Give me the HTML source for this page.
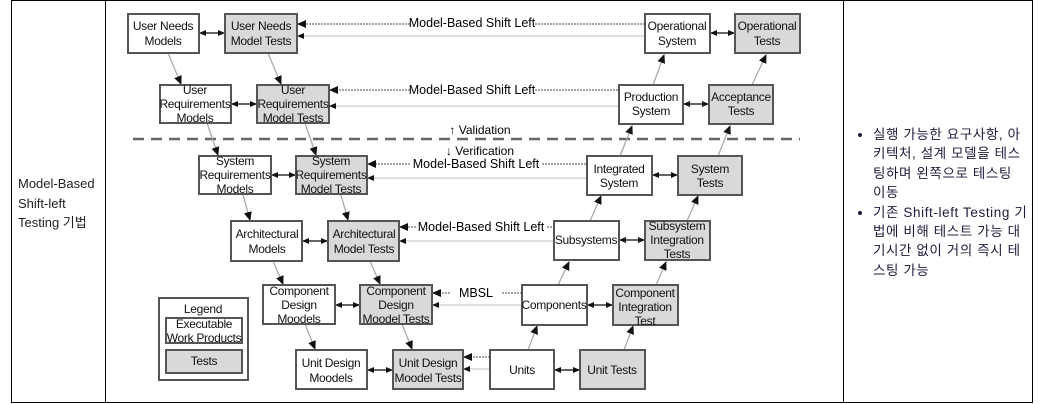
<!DOCTYPE html>
<html><head><meta charset="utf-8"><style>
body{margin:0;background:#fff;width:1044px;height:404px;overflow:hidden;position:relative;font-family:"Liberation Sans","Noto Sans CJK KR",sans-serif}
.b{position:absolute;background:#000}
.lt{position:absolute;left:18px;top:174px;font-size:13px;line-height:19.5px;color:#222}
.rt{position:absolute;left:856px;top:125px;width:185px;font-size:13.5px;line-height:19.4px;color:#1c1c3c;white-space:nowrap;letter-spacing:0.6px}
.rt ul{margin:0;padding:0 0 0 17px}
svg{position:absolute;left:0;top:0}
</style></head><body>
<div class="b" style="left:11px;top:0;width:1022px;height:1px"></div>
<div class="b" style="left:11px;top:402px;width:1022px;height:1px"></div>
<div class="b" style="left:11px;top:0;width:1px;height:403px"></div>
<div class="b" style="left:105px;top:0;width:1px;height:403px"></div>
<div class="b" style="left:843px;top:0;width:1px;height:403px"></div>
<div class="b" style="left:1032px;top:0;width:1px;height:403px"></div>
<div class="lt">Model-Based<br>Shift-left<br>Testing 기법</div>
<div class="rt"><ul><li>실행 가능한 요구사항, 아<br>키텍처, 설계 모델을 테스<br>팅하며 왼쪽으로 테스팅<br>이동</li><li>기존 Shift-left Testing 기<br>법에 비해 테스트 가능 대<br>기시간 없이 거의 즉시 테<br>스팅 가능</li></ul></div>
<svg width="1044" height="404" font-family="Liberation Sans, sans-serif" font-size="12" text-anchor="middle">
<defs>
<marker id="a" markerWidth="9" markerHeight="9" refX="8" refY="4.5" orient="auto" markerUnits="userSpaceOnUse"><path d="M0,0.5 L9,4.5 L0,8.5z" fill="#111"/></marker>
<marker id="s" markerWidth="7" markerHeight="7" refX="6" refY="3.5" orient="auto" markerUnits="userSpaceOnUse"><path d="M0,0.5 L7,3.5 L0,6.5z" fill="#111"/></marker>
</defs>
<line x1="133" y1="139" x2="800" y2="139" stroke="#666" stroke-width="2.5" stroke-dasharray="11,7"/>
<text x="480" y="134">↑ Validation</text>
<text x="480" y="155">↓ Verification</text>
<g stroke="#aaa" stroke-width="1.3" fill="none">
<line x1="168" y1="53" x2="181" y2="84" marker-end="url(#a)"/>
<line x1="268" y1="53" x2="281" y2="84" marker-end="url(#a)"/>
<line x1="207" y1="123" x2="218" y2="155" marker-end="url(#a)"/>
<line x1="305" y1="123" x2="316" y2="155" marker-end="url(#a)"/>
<line x1="243" y1="195" x2="250" y2="220" marker-end="url(#a)"/>
<line x1="341" y1="195" x2="348" y2="220" marker-end="url(#a)"/>
<line x1="273" y1="261" x2="283" y2="284" marker-end="url(#a)"/>
<line x1="370" y1="261" x2="380" y2="284" marker-end="url(#a)"/>
<line x1="305" y1="324" x2="315" y2="349" marker-end="url(#a)"/>
<line x1="402" y1="324" x2="412" y2="349" marker-end="url(#a)"/>
<line x1="653" y1="85" x2="664" y2="55" marker-end="url(#a)"/>
<line x1="752" y1="85" x2="766" y2="55" marker-end="url(#a)"/>
<line x1="620" y1="156" x2="632" y2="126" marker-end="url(#a)"/>
<line x1="718" y1="156" x2="730" y2="126" marker-end="url(#a)"/>
<line x1="590" y1="221" x2="601" y2="196" marker-end="url(#a)"/>
<line x1="687" y1="221" x2="698" y2="196" marker-end="url(#a)"/>
<line x1="558" y1="285" x2="569" y2="262" marker-end="url(#a)"/>
<line x1="656" y1="285" x2="666" y2="262" marker-end="url(#a)"/>
<line x1="528" y1="350" x2="537" y2="326" marker-end="url(#a)"/>
<line x1="624" y1="350" x2="633" y2="326" marker-end="url(#a)"/>
</g>
<g stroke="#888" stroke-width="1.5" stroke-dasharray="2,1" fill="none">
<line x1="410" y1="24" x2="298" y2="24" marker-end="url(#a)"/><line x1="535" y1="24" x2="645" y2="24"/>
<line x1="410" y1="90" x2="330" y2="90" marker-end="url(#a)"/><line x1="535" y1="90" x2="619" y2="90"/>
<line x1="410" y1="164" x2="368" y2="164" marker-end="url(#a)"/><line x1="542" y1="164" x2="587" y2="164"/>
<line x1="416" y1="227" x2="400" y2="227" marker-end="url(#a)"/><line x1="547" y1="227" x2="554" y2="227"/>
<line x1="450" y1="293" x2="433" y2="293" marker-end="url(#a)"/><line x1="502" y1="293" x2="522" y2="293"/>
<line x1="490" y1="357" x2="464" y2="357" marker-end="url(#a)"/>
</g>
<g stroke="#ccc" stroke-width="1.3" fill="none">
<line x1="645" y1="36" x2="298" y2="36" marker-end="url(#s)"/>
<line x1="619" y1="106" x2="330" y2="106" marker-end="url(#s)"/>
<line x1="587" y1="178" x2="368" y2="178" marker-end="url(#s)"/>
<line x1="554" y1="241" x2="400" y2="241" marker-end="url(#s)"/>
<line x1="522" y1="305" x2="433" y2="305" marker-end="url(#s)"/>
<line x1="490" y1="369" x2="464" y2="369" marker-end="url(#s)"/>
</g>
<g font-size="12.5">
<text x="472" y="27">Model-Based Shift Left</text>
<text x="472" y="94">Model-Based Shift Left</text>
<text x="476" y="168">Model-Based Shift Left</text>
<text x="481" y="231">Model-Based Shift Left</text>
<text x="476" y="297">MBSL</text>
</g>
<g stroke="#111" stroke-width="1.3">
<line x1="212" y1="33" x2="200" y2="33" marker-end="url(#s)"/><line x1="212" y1="33" x2="224" y2="33" marker-end="url(#s)"/>
<line x1="723" y1="33" x2="711" y2="33" marker-end="url(#s)"/><line x1="723" y1="33" x2="734" y2="33" marker-end="url(#s)"/>
<line x1="244" y1="104" x2="232" y2="104" marker-end="url(#s)"/><line x1="244" y1="104" x2="256" y2="104" marker-end="url(#s)"/>
<line x1="696" y1="104" x2="684" y2="104" marker-end="url(#s)"/><line x1="696" y1="104" x2="708" y2="104" marker-end="url(#s)"/>
<line x1="283" y1="175" x2="272" y2="175" marker-end="url(#s)"/><line x1="283" y1="175" x2="295" y2="175" marker-end="url(#s)"/>
<line x1="665" y1="175" x2="653" y2="175" marker-end="url(#s)"/><line x1="665" y1="175" x2="677" y2="175" marker-end="url(#s)"/>
<line x1="315" y1="241" x2="303" y2="241" marker-end="url(#s)"/><line x1="315" y1="241" x2="327" y2="241" marker-end="url(#s)"/>
<line x1="632" y1="240" x2="620" y2="240" marker-end="url(#s)"/><line x1="632" y1="240" x2="644" y2="240" marker-end="url(#s)"/>
<line x1="347" y1="305" x2="336" y2="305" marker-end="url(#s)"/><line x1="347" y1="305" x2="359" y2="305" marker-end="url(#s)"/>
<line x1="600" y1="305" x2="588" y2="305" marker-end="url(#s)"/><line x1="600" y1="305" x2="612" y2="305" marker-end="url(#s)"/>
<line x1="380" y1="370" x2="368" y2="370" marker-end="url(#s)"/><line x1="380" y1="370" x2="392" y2="370" marker-end="url(#s)"/>
<line x1="567" y1="370" x2="555" y2="370" marker-end="url(#s)"/><line x1="567" y1="370" x2="579" y2="370" marker-end="url(#s)"/>
</g>
<g stroke="#555" stroke-width="2">
<rect x="128" y="14" width="71" height="39" fill="#fff"/>
<rect x="225" y="14" width="72" height="39" fill="#d9d9d9"/>
<rect x="645" y="14" width="65" height="39" fill="#fff"/>
<rect x="735" y="14" width="65" height="39" fill="#d9d9d9"/>
<rect x="160" y="85" width="71" height="38" fill="#fff"/>
<rect x="257" y="85" width="72" height="38" fill="#d9d9d9"/>
<rect x="619" y="85" width="64" height="39" fill="#fff"/>
<rect x="709" y="85" width="64" height="39" fill="#d9d9d9"/>
<rect x="199" y="156" width="72" height="38" fill="#fff"/>
<rect x="296" y="156" width="71" height="38" fill="#d9d9d9"/>
<rect x="587" y="156" width="65" height="39" fill="#fff"/>
<rect x="678" y="156" width="64" height="39" fill="#d9d9d9"/>
<rect x="231" y="221" width="71" height="40" fill="#fff"/>
<rect x="328" y="221" width="71" height="40" fill="#d9d9d9"/>
<rect x="554" y="221" width="65" height="39" fill="#fff"/>
<rect x="645" y="221" width="65" height="39" fill="#d9d9d9"/>
<rect x="263" y="285" width="72" height="39" fill="#fff"/>
<rect x="360" y="285" width="72" height="39" fill="#d9d9d9"/>
<rect x="522" y="285" width="65" height="40" fill="#fff"/>
<rect x="613" y="285" width="65" height="40" fill="#d9d9d9"/>
<rect x="296" y="350" width="71" height="39" fill="#fff"/>
<rect x="393" y="350" width="70" height="39" fill="#d9d9d9"/>
<rect x="490" y="350" width="64" height="39" fill="#fff"/>
<rect x="580" y="350" width="65" height="39" fill="#d9d9d9"/>
<rect x="159" y="298" width="89" height="82" fill="#fff"/>
<rect x="166" y="318" width="76" height="25" fill="#fff"/>
<rect x="166" y="350" width="76" height="23" fill="#d9d9d9"/>
</g>
<g fill="#111" letter-spacing="-0.3">
<text x="163" y="30">User Needs</text><text x="163" y="45">Models</text>
<text x="261" y="30">User Needs</text><text x="261" y="45">Model Tests</text>
<text x="677" y="30">Operational</text><text x="677" y="45">System</text>
<text x="767" y="30">Operational</text><text x="767" y="45">Tests</text>
<text x="195" y="94">User</text><text x="195" y="108">Requirements</text><text x="195" y="122">Models</text>
<text x="293" y="94">User</text><text x="293" y="108">Requirements</text><text x="293" y="122">Model Tests</text>
<text x="651" y="101">Production</text><text x="651" y="115">System</text>
<text x="741" y="101">Acceptance</text><text x="741" y="115">Tests</text>
<text x="235" y="165">System</text><text x="235" y="179">Requirements</text><text x="235" y="193">Models</text>
<text x="331" y="165">System</text><text x="331" y="179">Requirements</text><text x="331" y="193">Model Tests</text>
<text x="619" y="173">Integrated</text><text x="619" y="187">System</text>
<text x="710" y="173">System</text><text x="710" y="187">Tests</text>
<text x="267" y="238">Architectural</text><text x="267" y="253">Models</text>
<text x="364" y="238">Architectural</text><text x="364" y="253">Model Tests</text>
<text x="586" y="244">Subsystems</text>
<text x="677" y="230">Subsystem</text><text x="677" y="244">Integration</text><text x="677" y="258">Tests</text>
<text x="299" y="295">Component</text><text x="299" y="309">Design</text><text x="299" y="323">Moodels</text>
<text x="396" y="295">Component</text><text x="396" y="309">Design</text><text x="396" y="323">Moodel Tests</text>
<text x="554" y="309">Components</text>
<text x="645" y="297">Component</text><text x="645" y="311">Integration</text><text x="645" y="325">Test</text>
<text x="331" y="367">Unit Design</text><text x="331" y="382">Moodels</text>
<text x="428" y="367">Unit Design</text><text x="428" y="382">Moodel Tests</text>
<text x="522" y="374">Units</text>
<text x="612" y="374">Unit Tests</text>
<text x="203" y="313">Legend</text>
<text x="204" y="328">Executable</text><text x="204" y="342">Work Products</text>
<text x="204" y="365">Tests</text>
</g>
</svg>
</body></html>
